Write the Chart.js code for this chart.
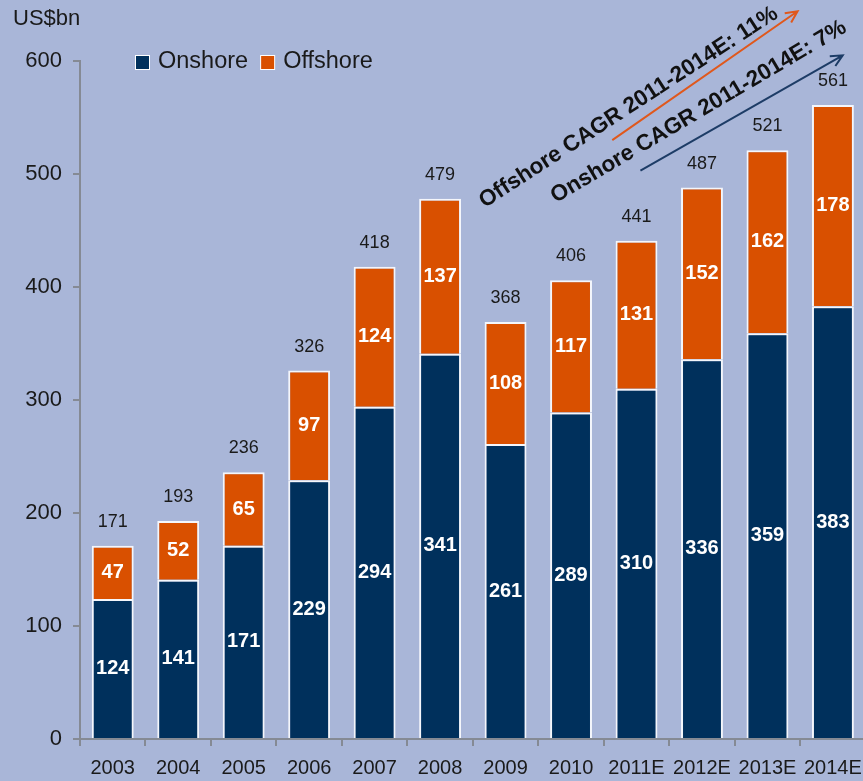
<!DOCTYPE html>
<html>
<head>
<meta charset="utf-8">
<script src="https://cdn.jsdelivr.net/npm/chart.js@4.4.1/dist/chart.umd.min.js"></script>
<style>
  html, body { margin: 0; padding: 0; background: #a9b6d8; overflow: hidden; }
  #wrap { position: relative; width: 872px; height: 781px; }
</style>
</head>
<body>
<div id="wrap"><canvas id="capexChart"></canvas></div>
<script>
// Spending by segment, US$bn
const years = ['2003', '2004', '2005', '2006', '2007', '2008', '2009', '2010', '2011E', '2012E', '2013E', '2014E'];
const onshore = [124, 141, 171, 229, 294, 341, 261, 289, 310, 336, 359, 383];
const offshore = [47, 52, 65, 97, 124, 137, 108, 117, 131, 152, 162, 178];
const totals = [171, 193, 236, 326, 418, 479, 368, 406, 441, 487, 521, 561];
const yTicks = [0, 100, 200, 300, 400, 500, 600];

const NAVY = '#00305c';
const ORANGE = '#d95000';
const FONT = '"Liberation Sans", Arial, sans-serif';

// CAGR callouts, placed in data space (x = category index, y = US$bn)
const cagrNotes = [
  { text: 'Offshore CAGR 2011-2014E: 11%', color: '#e0581c', textAt: [7.88, 559], angle: -33,
    from: [7.63, 530], to: [10.46, 644] },
  { text: 'Onshore CAGR 2011-2014E: 7%', color: '#1d3c66', textAt: [8.95, 555], angle: -30.5,
    from: [8.06, 503], to: [11.15, 605] }
];

const background = {
  id: 'background',
  beforeDraw(chart) {
    const ctx = chart.ctx;
    ctx.save();
    ctx.fillStyle = '#a9b6d8';
    ctx.fillRect(0, 0, chart.width, chart.height);
    ctx.restore();
  }
};

// Value labels inside segments, totals above stacks, unit, legend and CAGR arrows
const decorations = {
  id: 'decorations',
  afterDatasetsDraw(chart) {
    const ctx = chart.ctx;
    const xs = chart.scales.x, ys = chart.scales.y;
    ctx.save();

    ctx.textAlign = 'center';
    ctx.textBaseline = 'middle';
    ctx.font = 'bold 20px ' + FONT;
    ctx.fillStyle = '#ffffff';
    chart.data.datasets.forEach((ds, di) => {
      chart.getDatasetMeta(di).data.forEach((bar, i) => {
        ctx.fillText(String(ds.data[i]), bar.x, (bar.y + bar.base) / 2);
      });
    });

    ctx.font = '18px ' + FONT;
    ctx.fillStyle = '#1a1a1a';
    ctx.textBaseline = 'alphabetic';
    const top = chart.getDatasetMeta(1).data;
    top.forEach((bar, i) => {
      ctx.fillText(String(totals[i]), bar.x, bar.y - 19);
    });

    // unit label
    ctx.textAlign = 'left';
    ctx.textBaseline = 'middle';
    ctx.font = '22px ' + FONT;
    ctx.fillStyle = '#1a1a1a';
    ctx.fillText('US$bn', 13, 19);

    // legend
    let lx = 136;
    const ly = 62;
    ctx.font = '23.5px ' + FONT;
    chart.data.datasets.forEach(ds => {
      ctx.fillStyle = '#ffffff';
      ctx.fillRect(lx - 1, ly - 7, 15, 15);
      ctx.fillStyle = ds.backgroundColor;
      ctx.fillRect(lx, ly - 6, 13, 13);
      ctx.fillStyle = '#1a1a1a';
      ctx.fillText(ds.label, lx + 22, ly);
      lx += 22 + ctx.measureText(ds.label).width + 13;
    });

    // CAGR arrows and rotated captions
    const px = p => [xs.getPixelForValue(p[0]), ys.getPixelForValue(p[1])];
    cagrNotes.forEach(n => {
      const [x1, y1] = px(n.from);
      const [x2, y2] = px(n.to);
      const a = Math.atan2(y2 - y1, x2 - x1);
      ctx.strokeStyle = n.color;
      ctx.lineWidth = 2;
      ctx.beginPath();
      ctx.moveTo(x1, y1);
      ctx.lineTo(x2, y2);
      ctx.moveTo(x2 - 13 * Math.cos(a - 0.45), y2 - 13 * Math.sin(a - 0.45));
      ctx.lineTo(x2, y2);
      ctx.lineTo(x2 - 13 * Math.cos(a + 0.45), y2 - 13 * Math.sin(a + 0.45));
      ctx.stroke();

      const [tx, ty] = px(n.textAt);
      ctx.save();
      ctx.translate(tx, ty);
      ctx.rotate(n.angle * Math.PI / 180);
      ctx.textAlign = 'center';
      ctx.textBaseline = 'middle';
      ctx.font = 'bold 22.5px ' + FONT;
      ctx.fillStyle = '#111111';
      ctx.fillText(n.text, 0, 0);
      ctx.restore();
    });

    ctx.restore();
  }
};

const barBorder = { top: 2, left: 2, right: 2, bottom: 0 };

new Chart(document.getElementById('capexChart'), {
  type: 'bar',
  data: {
    labels: years,
    datasets: [
      { label: 'Onshore', data: onshore, backgroundColor: NAVY, borderColor: '#f4f6fb',
        borderWidth: barBorder, borderSkipped: false },
      { label: 'Offshore', data: offshore, backgroundColor: ORANGE, borderColor: '#f4f6fb',
        borderWidth: barBorder, borderSkipped: false }
    ]
  },
  options: {
    responsive: true,
    maintainAspectRatio: false,
    animation: false,
    layout: { padding: { top: 61, right: 4, left: 0, bottom: 0 } },
    plugins: {
      legend: { display: false },
      tooltip: { enabled: false }
    },
    datasets: { bar: { categoryPercentage: 1, barPercentage: 0.64 } },
    scales: {
      x: {
        stacked: true,
        border: { display: true, color: '#858a94', width: 2 },
        grid: { drawOnChartArea: false, drawTicks: true, tickLength: 7, color: '#858a94', lineWidth: 2, offset: true },
        ticks: { color: '#1a1a1a', font: { family: FONT, size: 20 }, padding: 10, maxRotation: 0, autoSkip: false },
        afterFit(scale) { scale.height = 42; }
      },
      y: {
        stacked: true,
        min: 0,
        max: 600,
        afterBuildTicks(scale) { scale.ticks = yTicks.map(v => ({ value: v })); },
        border: { display: true, color: '#858a94', width: 2 },
        grid: { drawOnChartArea: false, drawTicks: true, tickLength: 7, color: '#858a94', lineWidth: 2 },
        ticks: { color: '#1a1a1a', font: { family: FONT, size: 22 }, padding: 11 },
        afterFit(scale) { scale.width = 80; }
      }
    }
  },
  plugins: [background, decorations]
});
</script>
</body>
</html>
